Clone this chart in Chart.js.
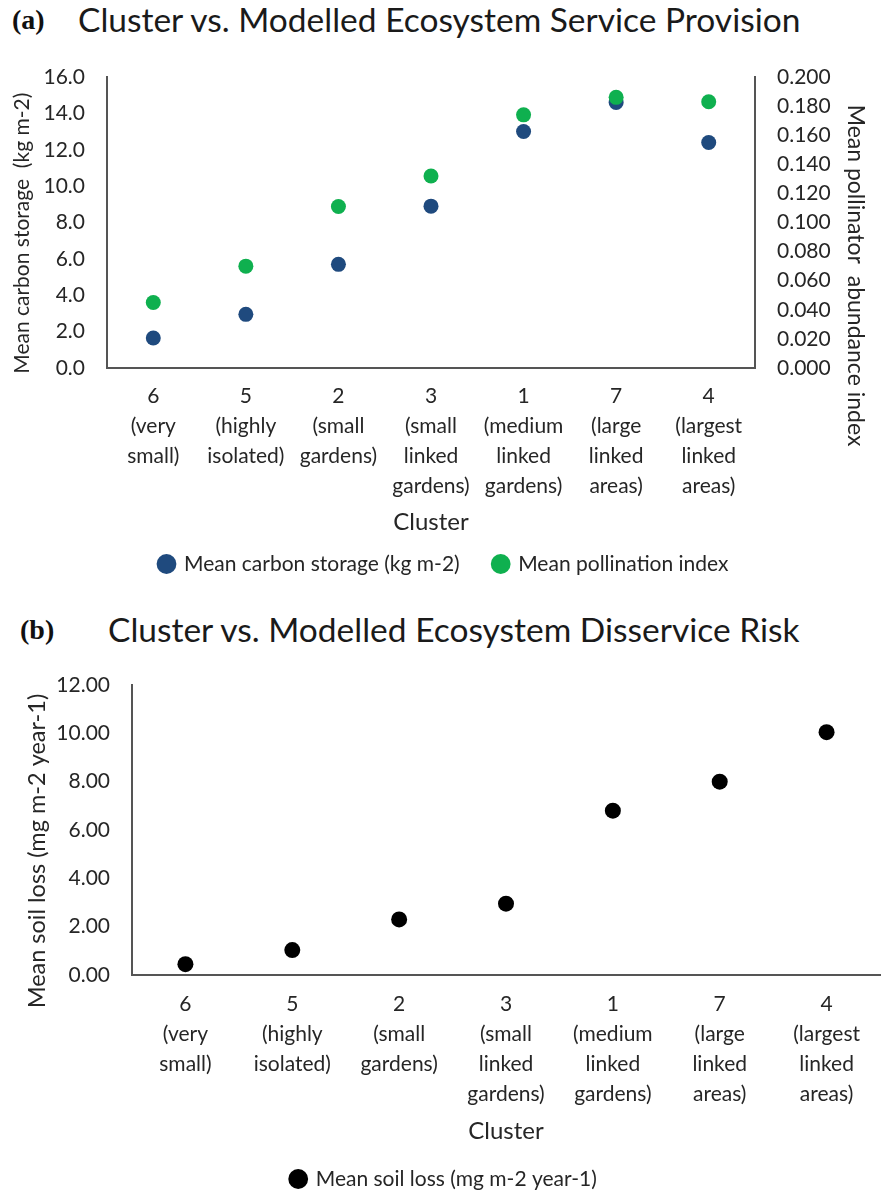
<!DOCTYPE html>
<html>
<head>
<meta charset="utf-8">
<script src="https://cdn.jsdelivr.net/npm/chart.js@4.4.0/dist/chart.umd.min.js"></script>
<style>
body{margin:0;width:888px;height:1191px;background:#fff;position:relative;overflow:hidden;font-family:Lato,sans-serif}
.tag{position:absolute;font-family:'Liberation Serif',serif;font-weight:bold;font-size:28px;color:#111}
.ttl{position:absolute;font-family:Lato,sans-serif;font-size:33.5px;color:#1a1a1a;white-space:nowrap}
#wa{position:absolute;left:0;top:50px;width:888px;height:550px}
#wb{position:absolute;left:0;top:655px;width:888px;height:560px}
</style>
</head>
<body>
<div class="tag" style="left:12px;top:4px">(a)</div>
<div class="ttl" style="left:78px;top:-1px">Cluster vs. Modelled Ecosystem Service Provision</div>
<div class="tag" style="left:20px;top:614px">(b)</div>
<div class="ttl" style="left:108px;top:609px">Cluster vs. Modelled Ecosystem Disservice Risk</div>
<div id="wa"><canvas id="chartA"></canvas></div>
<div id="wb"><canvas id="chartB"></canvas></div>
<script>
// clusters in the order shown on the x axis
const clusters = ['6', '5', '2', '3', '1', '7', '4'];
const clusterNames = [
    ['(very', 'small)'],
    ['(highly', 'isolated)'],
    ['(small', 'gardens)'],
    ['(small', 'linked', 'gardens)'],
    ['(medium', 'linked', 'gardens)'],
    ['(large', 'linked', 'areas)'],
    ['(largest', 'linked', 'areas)']
];
const carbonStorage = [1.65, 2.95, 5.7, 8.9, 13.0, 14.6, 12.4];   // kg m-2
const pollination = [0.045, 0.070, 0.111, 0.132, 0.174, 0.186, 0.183];
const soilLoss = [0.45, 1.03, 2.3, 2.95, 6.8, 8.0, 10.05];        // mg m-2 year-1

const labels = clusters.map((c, i) => [c].concat(clusterNames[i]));

const txt = '#262626';
const axisLine = '#555555';
const fam = 'Lato, sans-serif';

Chart.defaults.font.family = fam;
Chart.defaults.color = txt;

function xAxis(h, pad, titlePad) {
    return {
        type: 'category',
        offset: true,
        grid: {display: false, drawTicks: false},
        border: {display: true, color: axisLine, width: 2},
        ticks: {font: {size: 21, lineHeight: 1.43}, padding: pad, maxRotation: 0, autoSkip: false},
        title: {display: true, text: 'Cluster', font: {size: 24, lineHeight: 0.8}, padding: {top: 0, bottom: titlePad}},
        afterFit: s => { s.height = h; }
    };
}

// y axis with fixed width; drop the tick padding chart.js adds above/below
function yAxis(pos, min, max, step, digits, title, titleSize, titlePad, w) {
    return {
        position: pos,
        min: min, max: max,
        grid: {display: false, drawTicks: false},
        border: {display: true, color: axisLine, width: 2},
        ticks: {stepSize: step, padding: 22, font: {size: 21}, callback: v => v.toFixed(digits)},
        title: {display: true, text: title, font: {size: titleSize}, padding: {top: titlePad, bottom: 0}},
        afterFit: s => { s.width = w; s.paddingTop = 0; s.paddingBottom = 0; }
    };
}

function legendOpts() {
    return {
        position: 'bottom',
        labels: {
            usePointStyle: true, pointStyle: 'circle', boxWidth: 14, boxHeight: 14, padding: 34,
            font: {size: 21},
            sort: (a, b) => a.datasetIndex - b.datasetIndex
        }
    };
}

// the spaces push the axis titles a bit off the axis centre, like the original
const pad = n => ' '.repeat(n);

const ctxA = document.getElementById('chartA').getContext('2d');
const chartA = new Chart(ctxA, {
    type: 'line',
    data: {
        labels: labels,
        datasets: [{
            label: 'Mean carbon storage (kg m-2)',
            data: carbonStorage,
            yAxisID: 'y',
            showLine: false,
            pointRadius: 7.5,
            pointBackgroundColor: '#1F4A7E',
            pointBorderWidth: 0,
            borderColor: '#1F4A7E',
            backgroundColor: '#1F4A7E',
            order: 1
        }, {
            label: 'Mean pollination index',
            data: pollination,
            yAxisID: 'y1',
            showLine: false,
            pointRadius: 7.5,
            pointBackgroundColor: '#0FB04F',
            pointBorderWidth: 0,
            borderColor: '#0FB04F',
            backgroundColor: '#0FB04F',
            order: 0
        }]
    },
    options: {
        responsive: true,
        maintainAspectRatio: false,
        animation: false,
        layout: {padding: {top: 27, bottom: 15.5, left: 0, right: 0}},
        plugins: {
            legend: legendOpts(),
            tooltip: {enabled: false}
        },
        scales: {
            x: xAxis(151.5, 13, -12),
            y: yAxis('left', 0, 16, 2, 1, 'Mean carbon storage  (kg m-2)' + pad(4), 21, 10, 107),
            y1: yAxis('right', 0, 0.2, 0.02, 3, pad(18) + 'Mean pollinator  abundance index', 23, 19, 133)
        }
    }
});

const ctxB = document.getElementById('chartB').getContext('2d');
const chartB = new Chart(ctxB, {
    type: 'line',
    data: {
        labels: labels,
        datasets: [{
            label: 'Mean soil loss (mg m-2 year-1)',
            data: soilLoss,
            showLine: false,
            pointRadius: 8,
            pointBackgroundColor: '#000000',
            pointBorderWidth: 0,
            borderColor: '#000000',
            backgroundColor: '#000000'
        }]
    },
    options: {
        responsive: true,
        maintainAspectRatio: false,
        animation: false,
        layout: {padding: {top: 30, bottom: 15.5, left: 0, right: 0}},
        plugins: {
            legend: legendOpts(),
            tooltip: {enabled: false}
        },
        scales: {
            x: xAxis(159.5, 14, -6),
            y: yAxis('left', 0, 12, 2, 2, 'Mean soil loss (mg m-2 year-1)' + pad(7), 23.5, 23, 132)
        }
    }
});
</script>
</body>
</html>
